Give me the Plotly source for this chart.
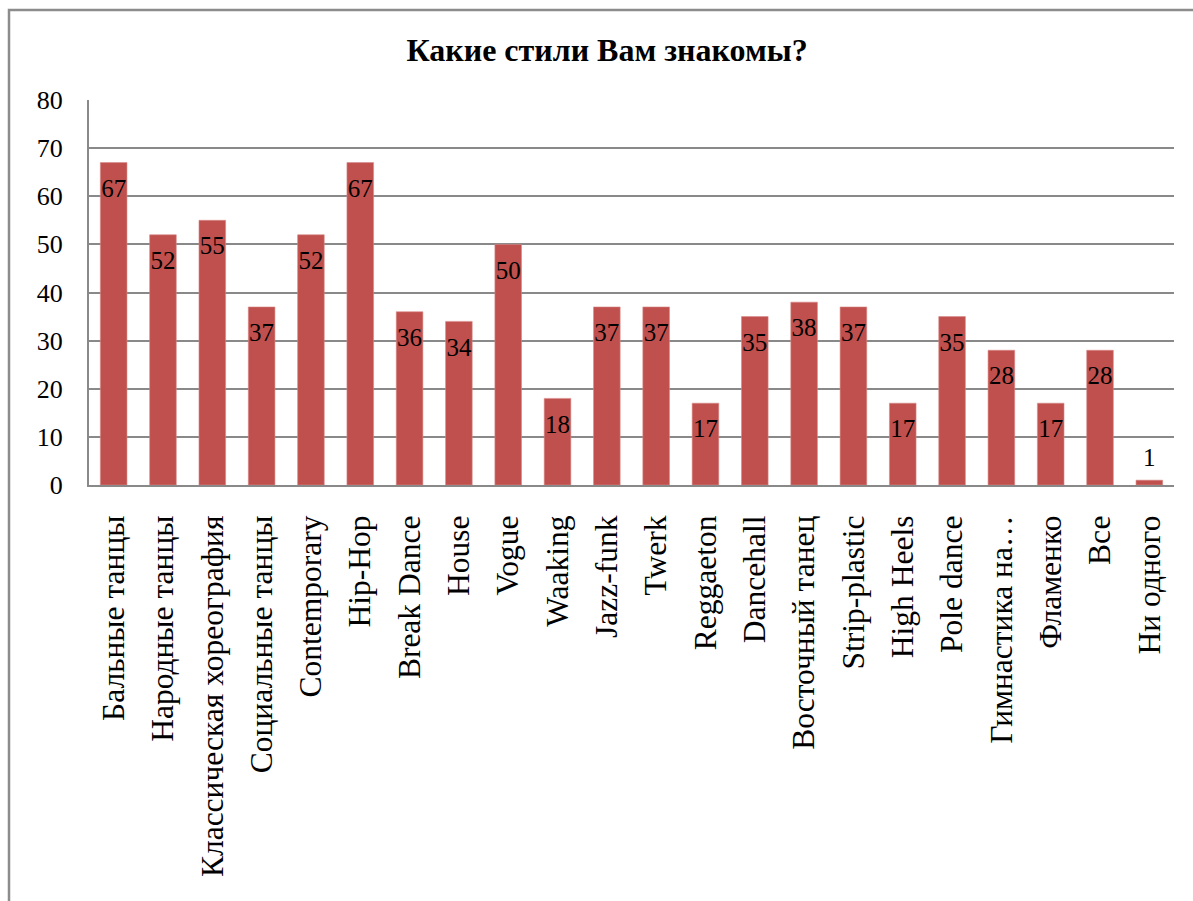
import plotly.graph_objects as go

categories = ["Бальные танцы", "Народные танцы", "Классическая хореография", "Социальные танцы",
              "Contemporary", "Hip-Hop", "Break Dance", "House", "Vogue", "Waaking", "Jazz-funk",
              "Twerk", "Reggaeton", "Dancehall", "Восточный танец", "Strip-plastic", "High Heels",
              "Pole dance", "Гимнастика на…", "Фламенко", "Все", "Ни одного"]
values = [67, 52, 55, 37, 52, 67, 36, 34, 50, 18, 37, 37, 17, 35, 38, 37, 17, 35, 28, 17, 28, 1]
y_ticks = [0, 10, 20, 30, 40, 50, 60, 70, 80]
title_text = "Какие стили Вам знакомы?"

FONT = "Liberation Serif"
BAR = "#C0504D"
GRID = "#898989"

label_y = [v - 5.8 if v > 8 else v + 4.2 for v in values]

fig = go.Figure()
fig.add_trace(go.Bar(
    x=categories, y=values,
    marker=dict(color=BAR, line=dict(color="#D88A88", width=0.6)),
    hoverinfo="x+y",
))
fig.add_trace(go.Scatter(
    x=categories, y=label_y, mode="text",
    text=[str(v) for v in values],
    textposition="middle center",
    textfont=dict(family=FONT, size=25, color="black"),
    hoverinfo="skip",
))

fig.update_layout(
    width=1193, height=901,
    margin=dict(l=89, r=19, t=100, b=416, autoexpand=False),
    paper_bgcolor="white", plot_bgcolor="white",
    showlegend=False,
    bargap=0.46,
    font=dict(family=FONT, size=24, color="black"),
    title=dict(text="<b>" + title_text + "</b>", x=0.4775, xref="paper", xanchor="center",
               y=0.945, yref="container", yanchor="middle",
               font=dict(family=FONT, size=32, color="black")),
    xaxis=dict(
        type="category", tickangle=-90, ticks="", showgrid=False,
        showline=True, linecolor=GRID, linewidth=2,
        tickfont=dict(family=FONT, size=31.5, color="black"),
        ticklabelstandoff=16,
        range=[-0.5, len(categories) - 0.5],
    ),
    yaxis=dict(
        range=[0, 80], tickvals=y_ticks, ticks="",
        showgrid=True, gridcolor=GRID, gridwidth=2,
        showline=True, linecolor=GRID, linewidth=2,
        zeroline=False,
        tickfont=dict(family=FONT, size=26, color="black"),
        ticklabelstandoff=19,
    ),
    shapes=[dict(type="rect", xref="paper", yref="paper",
                 x0=(9 - 89) / 1085, x1=(1210 - 89) / 1085,
                 y0=(485 - 920) / 385, y1=(485 - 10) / 385,
                 line=dict(color="#8C8C8C", width=2.5), fillcolor="rgba(0,0,0,0)", layer="below")],
)

fig.write_html("out.html")
